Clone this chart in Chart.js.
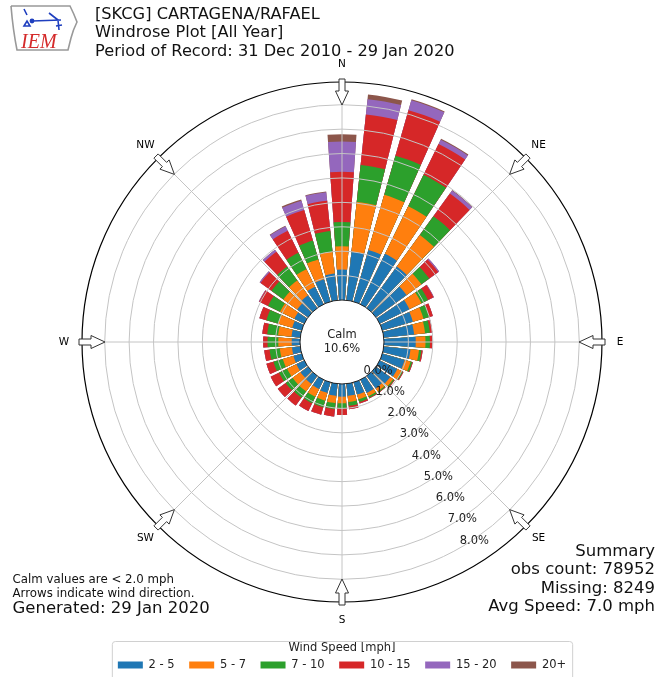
<!DOCTYPE html>
<html>
<head>
<meta charset="utf-8">
<title>SKCG Windrose</title>
<script src="https://cdn.jsdelivr.net/npm/chart.js@4.4.0/dist/chart.umd.min.js"></script>
<style>
  html, body { margin: 0; padding: 0; background: #fff; }
  #wrap { position: relative; width: 660px; height: 677px; }
</style>
</head>
<body>
<div id="wrap"><canvas id="windrose"></canvas></div>
<script>
// sector centres in degrees, clockwise from north
const directions = [0, 10, 20, 30, 40, 50, 60, 70, 80, 90, 100, 110, 120, 130, 140, 150, 160, 170,
  180, 190, 200, 210, 220, 230, 240, 250, 260, 270, 280, 290, 300, 310, 320, 330, 340, 350];

// percent of observations in each speed class, per sector
const speed2to5 = [1.25, 2.0, 2.2, 2.3, 2.1, 1.55, 1.35, 1.3, 1.25, 1.3, 1.1, 0.95, 0.8, 0.72, 0.63, 0.6, 0.52, 0.5,
  0.52, 0.5, 0.45, 0.42, 0.4, 0.38, 0.36, 0.35, 0.34, 0.34, 0.36, 0.4, 0.45, 0.55, 0.65, 0.8, 0.95, 1.1];
const speed5to7 = [0.95, 2.05, 2.35, 2.17, 1.6, 0.75, 0.55, 0.45, 0.45, 0.4, 0.35, 0.25, 0.2, 0.15, 0.15, 0.15, 0.2, 0.25,
  0.27, 0.3, 0.33, 0.35, 0.38, 0.4, 0.42, 0.45, 0.5, 0.55, 0.55, 0.6, 0.65, 0.7, 0.75, 0.8, 0.85, 0.9];
const speed7to10 = [1.0, 1.52, 1.67, 1.43, 0.95, 0.4, 0.3, 0.25, 0.2, 0.18, 0.1, 0.07, 0.05, 0.05, 0.05, 0.07, 0.12, 0.16,
  0.21, 0.25, 0.28, 0.3, 0.32, 0.35, 0.37, 0.4, 0.42, 0.44, 0.45, 0.5, 0.55, 0.6, 0.7, 0.75, 0.8, 0.85];
const speed10to15 = [2.05, 2.08, 1.94, 1.4, 1.15, 0.45, 0.25, 0.15, 0.1, 0.1, 0.05, 0.03, 0.03, 0.03, 0.02, 0.03, 0.06, 0.14,
  0.27, 0.3, 0.32, 0.35, 0.4, 0.4, 0.38, 0.3, 0.22, 0.18, 0.2, 0.3, 0.4, 0.55, 0.75, 1.0, 1.3, 1.25];
const speed15to20 = [1.24, 0.63, 0.42, 0.2, 0.15, 0.05, 0.02, 0, 0, 0, 0, 0, 0, 0, 0, 0, 0, 0,
  0, 0, 0, 0, 0, 0, 0, 0, 0, 0, 0, 0, 0.02, 0.05, 0.1, 0.2, 0.4, 0.35];
const speed20plus = [0.3, 0.19, 0.04, 0.04, 0.02, 0, 0, 0, 0, 0, 0, 0, 0, 0, 0, 0, 0, 0,
  0, 0, 0, 0, 0, 0, 0, 0, 0, 0, 0, 0, 0, 0, 0, 0.03, 0.05, 0.03];

const speedClasses = ['2 - 5', '5 - 7', '7 - 10', '10 - 15', '15 - 20', '20+'];
const speedColors = ['#1f77b4', '#ff7f0e', '#2ca02c', '#d62728', '#9467bd', '#8c564b'];
const ringTicks = [0, 1, 2, 3, 4, 5, 6, 7, 8];
const compassLabels = ['N', 'NE', 'E', 'SE', 'S', 'SW', 'W', 'NW'];
const calmPercent = 10.6;

// radial axis runs below zero so the calm disc sits in the middle
const rMin = -1.72;
const rMax = 8.93;
const FONT = "'DejaVu Sans', sans-serif";

Chart.defaults.font.family = FONT;
Chart.defaults.color = '#000';

// each sector = one bar slot (8 deg) + one empty slot (2 deg)
const labels = directions.flatMap(d => [d + '\u00b0', '']);
const running = directions.map(() => 0);
const datasets = [speed2to5, speed5to7, speed7to10, speed10to15, speed15to20, speed20plus].map((vals, k) => {
  const data = [];
  vals.forEach((v, i) => {
    running[i] += v;
    data.push(running[i]);
    data.push(rMin);
  });
  return {
    label: speedClasses[k],
    data: data,
    backgroundColor: speedColors[k],
    borderWidth: 0,
    angle: ctx => (ctx.dataIndex % 2 ? 2 : 8)
  };
});

function polar(scale, r, deg) {
  const a = deg * Math.PI / 180;
  return [scale.xCenter + r * Math.sin(a), scale.yCenter - r * Math.cos(a)];
}

const decor = {
  id: 'windroseDecor',
  afterDatasetsDraw(chart) {
    const ctx = chart.ctx;
    const s = chart.scales.r;
    const r0 = s.getDistanceFromCenterForValue(0);
    ctx.save();
    ctx.strokeStyle = '#c4c4c4';
    ctx.lineWidth = 1;
    for (let i = 0; i < 8; i++) {
      const [x1, y1] = polar(s, r0, i * 45);
      const [x2, y2] = polar(s, s.drawingArea, i * 45);
      ctx.beginPath();
      ctx.moveTo(x1, y1);
      ctx.lineTo(x2, y2);
      ctx.stroke();
    }
    ctx.restore();
  },
  afterDraw(chart) {
    const ctx = chart.ctx;
    const s = chart.scales.r;
    const cx = s.xCenter, cy = s.yCenter;
    const r0 = s.getDistanceFromCenterForValue(0);
    ctx.save();

    // calm disc
    ctx.beginPath();
    ctx.arc(cx, cy, r0, 0, Math.PI * 2);
    ctx.fillStyle = '#fff';
    ctx.fill();
    ctx.strokeStyle = '#222';
    ctx.lineWidth = 1;
    ctx.stroke();
    ctx.fillStyle = '#222';
    ctx.textAlign = 'center';
    ctx.textBaseline = 'middle';
    ctx.font = '11.5px ' + FONT;
    ctx.fillText('Calm', cx, cy - 7);
    ctx.fillText(calmPercent.toFixed(1) + '%', cx, cy + 7);

    // ring labels along the SSE side
    const la = 29.5 * Math.PI / 180;
    ringTicks.forEach(v => {
      const r = s.getDistanceFromCenterForValue(v);
      ctx.fillText(v.toFixed(1) + '%', cx + r * Math.sin(la) + 15.5, cy + r * Math.cos(la) - 8);
    });

    // compass labels and direction arrows
    ctx.font = '10.5px ' + FONT;
    ctx.fillStyle = '#000';
    compassLabels.forEach((lab, i) => {
      const [x, y] = polar(s, s.drawingArea + 18, i * 45);
      ctx.fillText(lab, x, y);
      const a = i * 45 * Math.PI / 180;
      const ux = Math.sin(a), uy = -Math.cos(a);
      const px = Math.cos(a), py = Math.sin(a);
      const R = s.drawingArea;
      const pts = [[R + 3, -3], [R + 3, 3], [R - 9, 3], [R - 9, 6.5], [R - 23, 0], [R - 9, -6.5], [R - 9, -3]];
      ctx.beginPath();
      pts.forEach(([u, w], j) => {
        const x1 = cx + u * ux + w * px, y1 = cy + u * uy + w * py;
        if (j === 0) ctx.moveTo(x1, y1); else ctx.lineTo(x1, y1);
      });
      ctx.closePath();
      ctx.fillStyle = '#fff';
      ctx.fill();
      ctx.strokeStyle = '#333';
      ctx.lineWidth = 1;
      ctx.stroke();
      ctx.fillStyle = '#000';
    });

    // header
    ctx.textAlign = 'left';
    ctx.textBaseline = 'alphabetic';
    ctx.fillStyle = '#111';
    ctx.font = '16.2px ' + FONT;
    ctx.fillText('[SKCG] CARTAGENA/RAFAEL', 95, 18.5);
    ctx.fillText('Windrose Plot [All Year]', 95, 37);
    ctx.fillText('Period of Record: 31 Dec 2010 - 29 Jan 2020', 95, 55.5);

    // IEM logo
    ctx.strokeStyle = '#999';
    ctx.lineWidth = 1.6;
    ctx.beginPath();
    ctx.moveTo(11, 6);
    ctx.lineTo(70, 6);
    ctx.quadraticCurveTo(74, 14, 77, 22);
    ctx.quadraticCurveTo(73, 30, 71, 38);
    ctx.lineTo(68, 50);
    ctx.lineTo(17, 50);
    ctx.quadraticCurveTo(13, 30, 11, 6);
    ctx.stroke();
    ctx.strokeStyle = '#1f3fbf';
    ctx.fillStyle = '#1f3fbf';
    ctx.lineWidth = 1.6;
    ctx.beginPath();
    ctx.moveTo(32, 21); ctx.lineTo(61, 20);
    ctx.moveTo(49, 13); ctx.lineTo(58, 20);
    ctx.moveTo(58, 20); ctx.lineTo(59, 30);
    ctx.moveTo(56, 26); ctx.lineTo(62, 25);
    ctx.moveTo(24, 9); ctx.lineTo(27, 15);
    ctx.stroke();
    ctx.beginPath();
    ctx.arc(32, 21, 2.4, 0, Math.PI * 2);
    ctx.fill();
    ctx.beginPath();
    ctx.moveTo(24, 26); ctx.lineTo(27, 21); ctx.lineTo(30, 26); ctx.closePath();
    ctx.stroke();
    ctx.font = 'italic 20px "Liberation Serif", serif';
    ctx.fillStyle = '#d42a2a';
    ctx.fillText('IEM', 21, 48);

    // footnotes
    ctx.fillStyle = '#111';
    ctx.font = '11.8px ' + FONT;
    ctx.fillText('Calm values are < 2.0 mph', 12.5, 583);
    ctx.fillText('Arrows indicate wind direction.', 12.5, 597);
    ctx.font = '16.5px ' + FONT;
    ctx.fillText('Generated: 29 Jan 2020', 12.5, 613);
    ctx.textAlign = 'right';
    ctx.fillText('Summary', 655, 555.5);
    ctx.fillText('obs count: 78952', 655, 574);
    ctx.fillText('Missing: 8249', 655, 592.5);
    ctx.fillText('Avg Speed: 7.0 mph', 655, 611);

    // legend frame
    const lg = chart.legend;
    if (lg && lg.legendHitBoxes && lg.legendHitBoxes.length) {
      const hb = lg.legendHitBoxes;
      const left = hb[0].left - 6;
      const right = hb[hb.length - 1].left + hb[hb.length - 1].width + 6;
      ctx.strokeStyle = '#d0d0d0';
      ctx.lineWidth = 1;
      ctx.beginPath();
      ctx.roundRect(left + 0.5, 641.5, right - left, 50, 3);
      ctx.stroke();
    }
    ctx.restore();
  }
};

new Chart(document.getElementById('windrose'), {
  type: 'polarArea',
  data: { labels: labels, datasets: datasets },
  options: {
    responsive: true,
    maintainAspectRatio: false,
    animation: false,
    layout: { padding: { left: 82, right: 58, top: 82, bottom: 0 } },
    scales: {
      r: {
        min: rMin,
        max: rMax,
        startAngle: -4,
        afterBuildTicks: sc => { sc.ticks = [rMin, ...ringTicks, rMax].map(v => ({ value: v })); },
        ticks: { display: false },
        grid: {
          z: 1,
          circular: true,
          lineWidth: c => (c.tick && c.tick.value === rMax ? 1.2 : 1),
          color: c => {
            const v = c.tick ? c.tick.value : null;
            if (v === rMax) return '#000';
            if (v === rMin || v === 0) return 'rgba(0,0,0,0)';
            return '#c4c4c4';
          }
        },
        angleLines: { display: false },
        pointLabels: { display: false }
      }
    },
    plugins: {
      tooltip: { enabled: false },
      legend: {
        position: 'bottom',
        maxHeight: 75,
        onClick: null,
        title: {
          display: true,
          text: 'Wind Speed [mph]',
          color: '#222',
          font: { size: 11.5 },
          padding: { top: 40.25, bottom: -11.3 }
        },
        labels: {
          boxWidth: 25,
          boxHeight: 7,
          padding: 14.5,
          color: '#222',
          font: { size: 11.5 },
          generateLabels: chart => chart.data.datasets.map((ds, i) => ({
            text: ds.label,
            fillStyle: ds.backgroundColor,
            strokeStyle: ds.backgroundColor,
            lineWidth: 0,
            hidden: false,
            datasetIndex: i
          }))
        }
      }
    }
  },
  plugins: [decor]
});
</script>
</body>
</html>
